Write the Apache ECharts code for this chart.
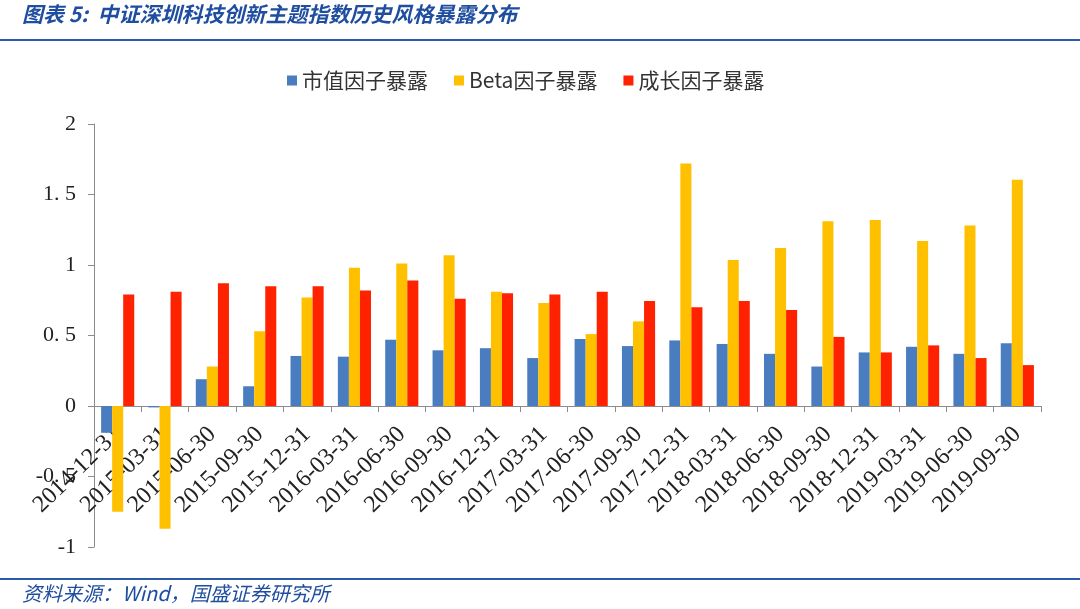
<!DOCTYPE html>
<html>
<head>
<meta charset="utf-8">
<script src="https://cdn.jsdelivr.net/npm/echarts@6/dist/echarts.min.js"></script>
<style>
html,body{margin:0;padding:0;background:#fff;}
#c{width:1080px;height:609px;}
</style>
</head>
<body>
<div id="c"></div>
<script>
const categories = ['2014-12-31','2015-03-31','2015-06-30','2015-09-30','2015-12-31','2016-03-31','2016-06-30','2016-09-30','2016-12-31','2017-03-31','2017-06-30','2017-09-30','2017-12-31','2018-03-31','2018-06-30','2018-09-30','2018-12-31','2019-03-31','2019-06-30','2019-09-30'];
const sizeExposure = [-0.19,-0.01,0.19,0.14,0.355,0.35,0.47,0.395,0.41,0.34,0.475,0.425,0.465,0.44,0.37,0.28,0.38,0.42,0.37,0.445];
const betaExposure = [-0.75,-0.87,0.28,0.53,0.77,0.98,1.01,1.07,0.81,0.73,0.51,0.60,1.72,1.035,1.12,1.31,1.32,1.17,1.28,1.605];
const growthExposure = [0.79,0.81,0.87,0.85,0.85,0.82,0.89,0.76,0.80,0.79,0.81,0.745,0.70,0.745,0.68,0.49,0.38,0.43,0.34,0.29];
const seriesNames = ['市值因子暴露','Beta因子暴露','成长因子暴露'];
const yTickLabels = {'-1':'-1','-0.5':'-0. 5','0':'0','0.5':'0. 5','1':'1','1.5':'1. 5','2':'2'};
const titleText = '图表 5:  中证深圳科技创新主题指数历史风格暴露分布';
const sourceText = '资料来源：Wind，国盛证券研究所';

const chart = echarts.init(document.getElementById('c'));
const serif = '"Liberation Serif", "DejaVu Serif", "Noto Sans CJK SC", serif';
const colors = ['#4a7dbf','#ffc000','#ff2200'];
const gridTop = 124, gridBottom = 62, yMin = -1, yMax = 2;
const plotH = 609 - gridTop - gridBottom;
const zeroOffset = -plotH * (0 - yMin) / (yMax - yMin);
chart.setOption({
  animation:false,
  color: colors,
  graphic:[
    {type:'text', left:22, top:4, style:{text:titleText, fill:'#1f4ea0', font:'italic bold 21px "Noto Sans CJK SC", sans-serif'}},
    {type:'rect', left:0, top:39, shape:{width:1080,height:2}, style:{fill:'#2a5aa8'}},
    {type:'rect', left:0, top:578, shape:{width:1080,height:2}, style:{fill:'#2a5aa8'}},
    {type:'text', left:22, top:583, style:{text:sourceText, fill:'#1f4ea0', font:'italic 20px "Noto Sans CJK SC", sans-serif'}}
  ],
  legend:{
    top:65, left:282,
    itemWidth:10, itemHeight:10, itemGap:26,
    icon:'rect',
    textStyle:{fontSize:21, color:'#333', fontFamily:'"Noto Sans CJK SC", serif'},
    data: seriesNames
  },
  grid:{left:94, right:39, top:gridTop, bottom:gridBottom, outerBoundsMode:'none', containLabel:false},
  xAxis:{
    type:'category', data:categories, position:'bottom', offset: zeroOffset,
    axisLine:{onZero:false, lineStyle:{color:'#8c8c8c', width:1}},
    axisTick:{show:true, length:6, lineStyle:{color:'#8c8c8c'}},
    axisLabel:{rotate:44, margin:25, fontSize:24, color:'#222', fontFamily:serif, interval:0}
  },
  yAxis:{
    type:'value', min:yMin, max:yMax, interval:0.5,
    axisLine:{show:true, lineStyle:{color:'#8c8c8c'}},
    axisTick:{show:true, length:6, lineStyle:{color:'#8c8c8c'}},
    splitLine:{show:false},
    axisLabel:{fontSize:22, color:'#222', fontFamily:serif, margin:18,
      formatter: v => yTickLabels[String(v)] !== undefined ? yTickLabels[String(v)] : String(v)}
  },
  series: seriesNames.map((n,i)=>({
    name:n, type:'bar', barGap:'0%', barCategoryGap:'30%',
    data:[sizeExposure,betaExposure,growthExposure][i]
  }))
});
</script>
</body>
</html>
